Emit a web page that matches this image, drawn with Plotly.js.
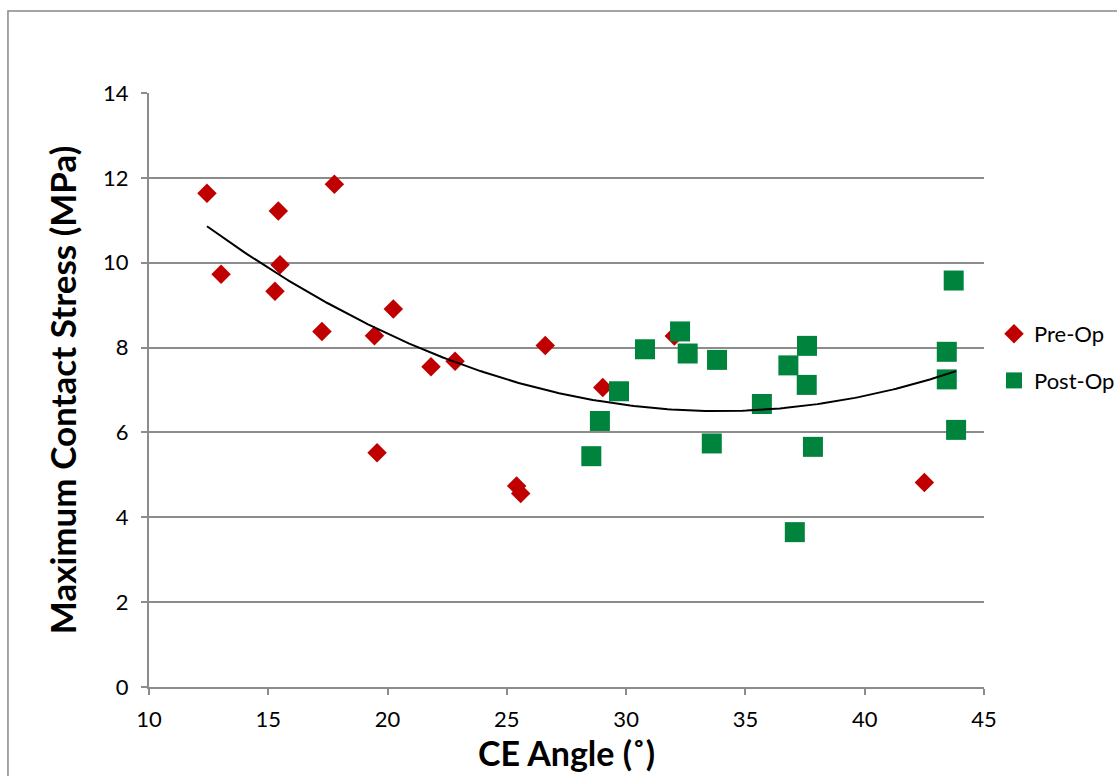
<!DOCTYPE html>
<html>
<head>
<meta charset="utf-8">
<script src="https://cdn.plot.ly/plotly-3.0.1.min.js"></script>
<style>html,body{margin:0;padding:0;background:#fff;}#chart{width:1117px;height:776px;}</style>
</head>
<body>
<div id="chart"></div>
<script>
// Pre-Op data (CE angle in degrees, max contact stress in MPa)
const preOpAngle  = [12.43, 13.02, 15.42, 15.49, 15.28, 17.77, 17.25, 19.45, 20.24, 19.56, 21.82, 22.83, 26.61, 25.41, 25.58, 29.02, 32.02, 42.50];
const preOpStress = [11.64, 9.73, 11.22, 9.95, 9.33, 11.85, 8.38, 8.28, 8.91, 5.52, 7.55, 7.68, 8.05, 4.74, 4.56, 7.06, 8.27, 4.82];

// Post-Op data
const postOpAngle  = [28.54, 28.90, 29.70, 30.79, 32.26, 32.58, 33.81, 33.59, 35.69, 36.80, 37.58, 37.57, 37.83, 37.07, 43.73, 43.44, 43.44, 43.83];
const postOpStress = [5.44, 6.27, 6.97, 7.96, 8.38, 7.86, 7.71, 5.74, 6.67, 7.58, 8.04, 7.12, 5.66, 3.65, 9.58, 7.90, 7.25, 6.06];

const xTicks = [10, 15, 20, 25, 30, 35, 40, 45];
const yTicks = [0, 2, 4, 6, 8, 10, 12, 14];

// Quadratic least-squares trendline over all data (as Excel's polynomial trendline)
function polyfit2(xs, ys) {
  let S = [0,0,0,0,0], T = [0,0,0];
  for (let i = 0; i < xs.length; i++) {
    const x = xs[i], y = ys[i];
    let p = 1;
    for (let k = 0; k < 5; k++) { S[k] += p; if (k < 3) T[k] += p * y; p *= x; }
  }
  const A = [[S[0],S[1],S[2],T[0]],[S[1],S[2],S[3],T[1]],[S[2],S[3],S[4],T[2]]];
  for (let i = 0; i < 3; i++) {
    for (let j = i + 1; j < 3; j++) {
      const f = A[j][i] / A[i][i];
      for (let k = i; k < 4; k++) A[j][k] -= f * A[i][k];
    }
  }
  const c = [0,0,0];
  for (let i = 2; i >= 0; i--) {
    let s = A[i][3];
    for (let k = i + 1; k < 3; k++) s -= A[i][k] * c[k];
    c[i] = s / A[i][i];
  }
  return c;
}
const allX = preOpAngle.concat(postOpAngle);
const allY = preOpStress.concat(postOpStress);
const coef = polyfit2(allX, allY);
const xmin = Math.min(...allX), xmax = Math.max(...allX);
const trendX = [], trendY = [];
for (let i = 0; i <= 200; i++) {
  const x = xmin + (xmax - xmin) * i / 200;
  trendX.push(x);
  trendY.push(coef[0] + coef[1] * x + coef[2] * x * x);
}

const FONT = 'Lato, "Open Sans", sans-serif';
const GRID = '#8c8c8c';

const traces = [
  {x: preOpAngle, y: preOpStress, type: 'scatter', mode: 'markers', name: 'Pre-Op', legendgroup: 'pre',
   marker: {symbol: 'diamond', size: 15, color: '#C00000', line: {width: 0}}},
  {x: postOpAngle, y: postOpStress, type: 'scatter', mode: 'markers', name: 'Post-Op', legendgroup: 'post',
   marker: {symbol: 'square', size: 20, color: '#00843D', line: {width: 0}}},
  {x: trendX, y: trendY, type: 'scatter', mode: 'lines', showlegend: false,
   line: {color: '#000000', width: 2}, hoverinfo: 'skip'}
];

const layout = {
  width: 1117, height: 776,
  margin: {l: 149, r: 133, t: 93, b: 89, pad: 0, autoexpand: false},
  paper_bgcolor: '#ffffff', plot_bgcolor: '#ffffff',
  font: {family: FONT, color: '#000000'},
  showlegend: true,
  legend: {x: 1.012, y: 0.5547, xanchor: 'left', yanchor: 'middle',
           font: {family: FONT, size: 22, color: '#000'}, tracegroupgap: 15,
           bgcolor: 'rgba(0,0,0,0)'},
  xaxis: {
    range: [10, 45], tickvals: xTicks, ticktext: xTicks.map(String),
    showgrid: false, zeroline: false,
    showline: true, linecolor: GRID, linewidth: 2,
    ticks: 'outside', ticklen: 6, tickwidth: 2, tickcolor: GRID,
    ticklabelstandoff: 6,
    tickfont: {family: FONT, size: 22, color: '#000'},
    title: {text: 'CE Angle (˚)', font: {family: FONT, size: 34, color: '#000', weight: 'bold'}, standoff: 9}
  },
  yaxis: {
    range: [0, 14], tickvals: yTicks, ticktext: yTicks.map(String),
    showgrid: true, gridcolor: GRID, gridwidth: 2, zeroline: false,
    showline: true, linecolor: GRID, linewidth: 2,
    ticks: 'outside', ticklen: 6, tickwidth: 2, tickcolor: GRID,
    ticklabelstandoff: 8,
    tickfont: {family: FONT, size: 22, color: '#000'},
    title: {text: 'Maximum Contact Stress (MPa)', font: {family: FONT, size: 35, color: '#000', weight: 'bold'}, standoff: 16}
  },
  shapes: [
    {type: 'rect', xref: 'paper', yref: 'paper', x0: -0.1689, x1: 2, y0: -2, y1: 1.138,
     line: {color: '#888888', width: 1.5}, fillcolor: 'rgba(0,0,0,0)', layer: 'below'}
  ]
};

Plotly.newPlot('chart', traces, layout, {displayModeBar: false, staticPlot: true});
</script>
</body>
</html>
